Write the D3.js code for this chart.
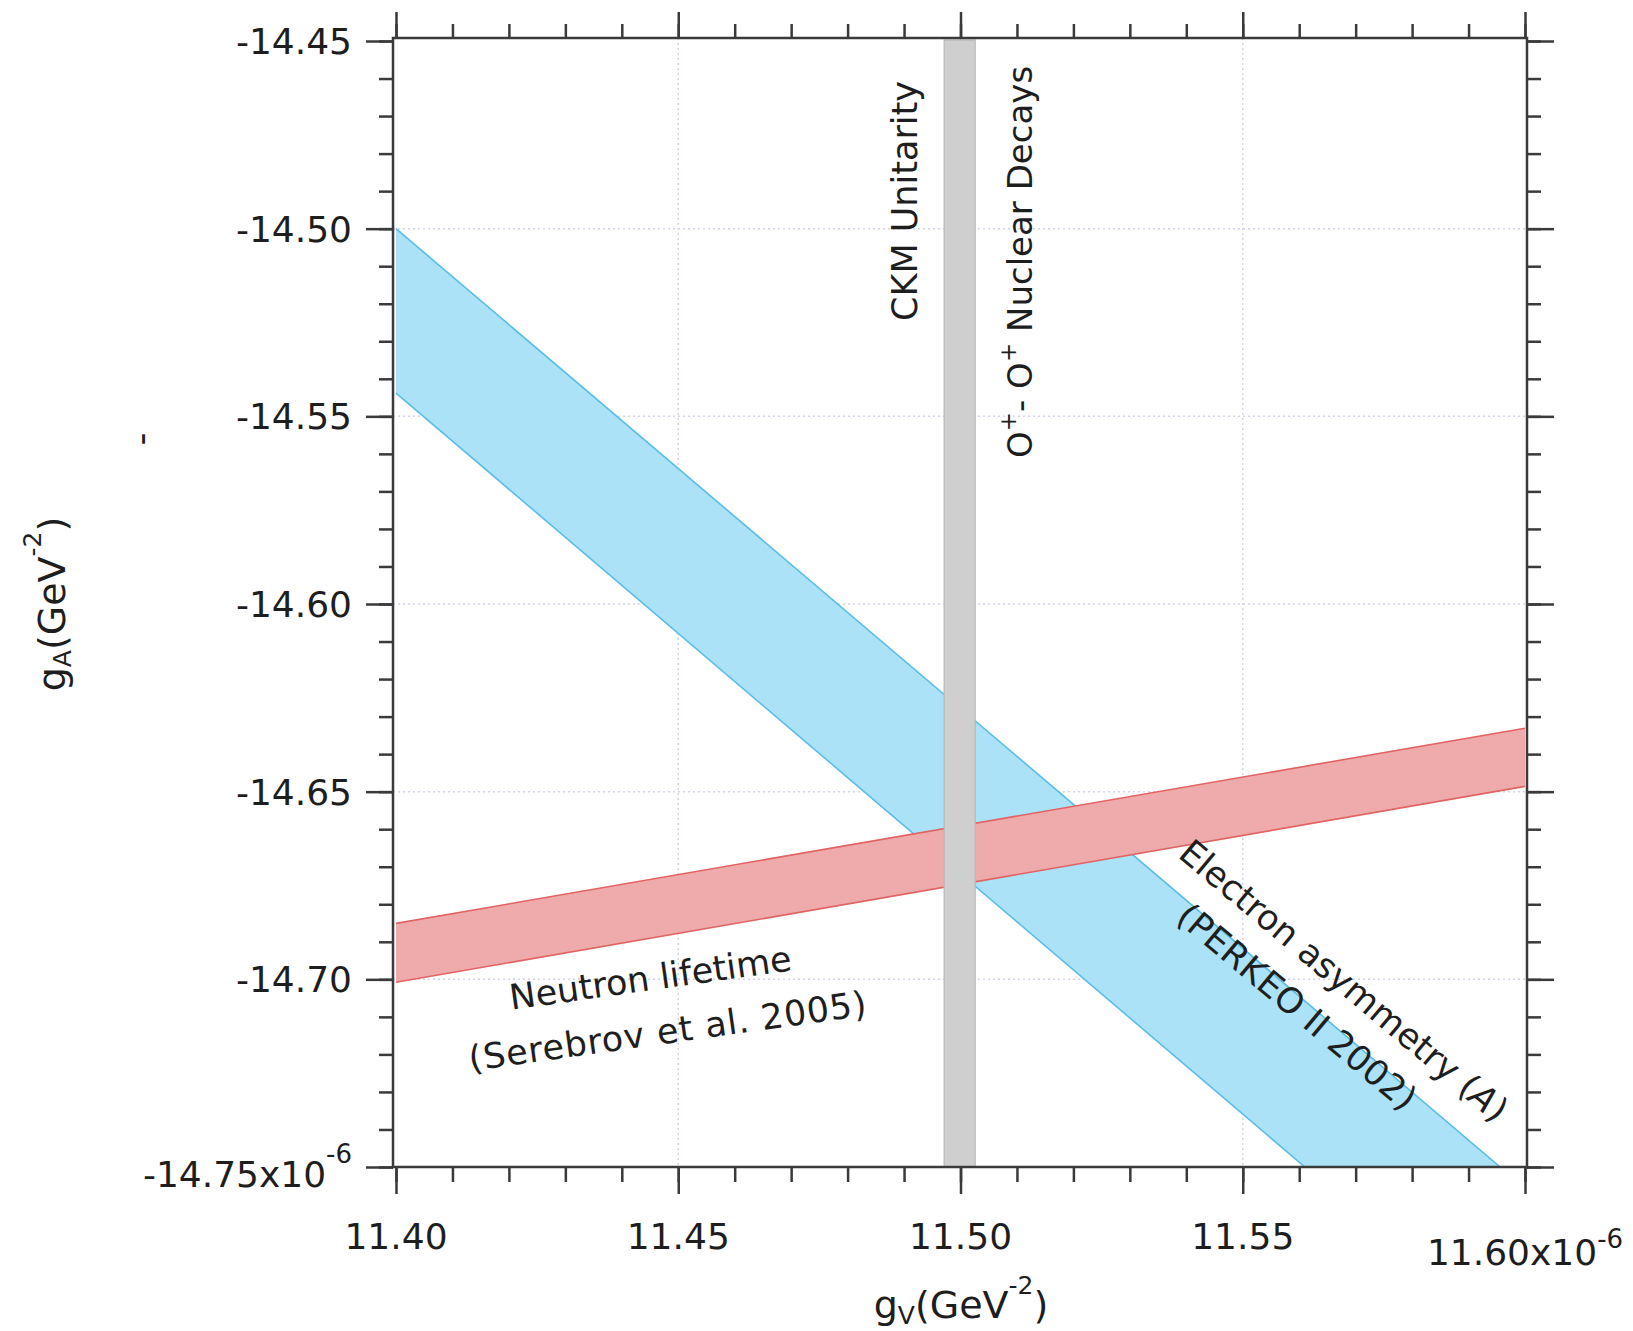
<!DOCTYPE html>
<html>
<head>
<meta charset="utf-8">
<script src="https://cdn.jsdelivr.net/npm/d3@7"></script>
<style>
  html, body { margin: 0; padding: 0; background: #fff; }
  svg { display: block; }
  text { font-family: "DejaVu Sans", sans-serif; fill: #1e1e1e; }
</style>
</head>
<body>
<svg id="chart" width="1633" height="1331"></svg>
<script>
// ---------- data ----------
const xDomain = [11.40, 11.60];           // g_V (x10^-6 GeV^-2)
const yDomain = [-14.75, -14.45];         // g_A (x10^-6 GeV^-2)
const xMajor = [11.40, 11.45, 11.50, 11.55, 11.60];
const xTickLabels = ["11.40", "11.45", "11.50", "11.55", "11.60"];
const yMajor = [-14.45, -14.50, -14.55, -14.60, -14.65, -14.70, -14.75];
const yTickLabels = ["-14.45", "-14.50", "-14.55", "-14.60", "-14.65", "-14.70", "-14.75"];
const xMinor = d3.range(0, 21).map(i => +(11.40 + i * 0.01).toFixed(2));
const yMinor = d3.range(0, 31).map(i => +(-14.75 + i * 0.01).toFixed(2));

// CKM unitarity / 0+-0+ nuclear decays band (g_V range)
const ckmBand = [11.4971, 11.5026];
// Electron asymmetry (PERKEO II 2002) band edges
const blueUpper = [[11.40, -14.500], [11.5956, -14.75]];
const blueLower = [[11.40, -14.5438], [11.5610, -14.75]];
// Neutron lifetime (Serebrov et al. 2005) band edges
const redUpper = [[11.40, -14.6851], [11.60, -14.6331]];
const redLower = [[11.40, -14.7008], [11.60, -14.6486]];

// ---------- layout ----------
const svg = d3.select("#chart");
const frame = { left: 393, right: 1527, top: 38, bottom: 1167 };
const x = d3.scaleLinear().domain(xDomain).range([396, 1525]);
const y = d3.scaleLinear().domain(yDomain).range([1167, 41]);
const axisColor = "#3a3a3a";

svg.append("defs").append("clipPath").attr("id", "plotClip")
  .append("rect")
  .attr("x", frame.left).attr("y", frame.top)
  .attr("width", frame.right - frame.left).attr("height", frame.bottom - frame.top);

// grid lines (dotted)
const grid = svg.append("g").attr("stroke", "#d2d2e8").attr("stroke-width", 1.5)
  .attr("stroke-dasharray", "2,3");
grid.selectAll("line.gx").data(xMajor.slice(1, -1)).join("line")
  .attr("x1", d => x(d)).attr("x2", d => x(d))
  .attr("y1", frame.top).attr("y2", frame.bottom);
grid.selectAll("line.gy").data(yMajor.slice(1, -1)).join("line")
  .attr("x1", frame.left).attr("x2", frame.right)
  .attr("y1", d => y(d)).attr("y2", d => y(d));

const plot = svg.append("g").attr("clip-path", "url(#plotClip)");
const line = d3.line().x(d => x(d[0])).y(d => y(d[1]));

function band(upper, lower, fill, stroke) {
  const poly = [upper[0], upper[1], lower[1], lower[0]];
  plot.append("path").attr("d", line(poly) + "Z").attr("fill", fill).attr("stroke", "none");
  plot.append("path").attr("d", line(upper)).attr("fill", "none").attr("stroke", stroke).attr("stroke-width", 1.6);
  plot.append("path").attr("d", line(lower)).attr("fill", "none").attr("stroke", stroke).attr("stroke-width", 1.6);
}
band(blueUpper, blueLower, "#abe2f7", "#5bbde6");
band(redUpper, redLower, "#efabab", "#e06464");

plot.append("rect")
  .attr("x", x(ckmBand[0])).attr("width", x(ckmBand[1]) - x(ckmBand[0]))
  .attr("y", frame.top + 2).attr("height", frame.bottom - frame.top - 2)
  .attr("fill", "#cfcfcf").attr("stroke", "#b8b8b8").attr("stroke-width", 1.2);

// ---------- axes ----------
function drawAxis(axisFn, scale, values, size, transform) {
  const g = svg.append("g").attr("transform", transform)
    .call(axisFn(scale).tickValues(values).tickSize(size).tickSizeOuter(0).tickFormat(""));
  g.select(".domain").remove();
  g.selectAll(".tick line").attr("stroke", axisColor).attr("stroke-width", 2.5);
}
drawAxis(d3.axisLeft, y, yMinor, 14, `translate(${frame.left},0)`);
drawAxis(d3.axisLeft, y, yMajor, 27, `translate(${frame.left},0)`);
drawAxis(d3.axisRight, y, yMinor, 14, `translate(${frame.right},0)`);
drawAxis(d3.axisRight, y, yMajor, 27, `translate(${frame.right},0)`);
drawAxis(d3.axisTop, x, xMinor, 14, `translate(0,${frame.top})`);
drawAxis(d3.axisTop, x, xMajor, 26, `translate(0,${frame.top})`);
drawAxis(d3.axisBottom, x, xMinor, 15, `translate(0,${frame.bottom})`);
drawAxis(d3.axisBottom, x, xMajor, 27, `translate(0,${frame.bottom})`);

svg.append("rect")
  .attr("x", frame.left).attr("y", frame.top)
  .attr("width", frame.right - frame.left).attr("height", frame.bottom - frame.top)
  .attr("fill", "none").attr("stroke", axisColor).attr("stroke-width", 2.5);

// tick labels
const tickFont = 36;
yMajor.forEach((v, i) => {
  const last = i === yMajor.length - 1;
  const t = svg.append("text").attr("x", 352).attr("y", y(v) + (last ? 20 : 13))
    .attr("text-anchor", "end").attr("font-size", tickFont).attr("fill", "#2a2a2a");
  if (!last) { t.text(yTickLabels[i]); }
  else {
    t.append("tspan").text(yTickLabels[i] + "x10");
    t.append("tspan").attr("font-size", 26).attr("dy", -24).text("-6");
  }
});
xMajor.forEach((v, i) => {
  const last = i === xMajor.length - 1;
  const t = svg.append("text").attr("x", x(v)).attr("y", last ? 1265 : 1249)
    .attr("text-anchor", "middle").attr("font-size", tickFont).attr("fill", "#2a2a2a");
  if (!last) { t.text(xTickLabels[i]); }
  else {
    t.append("tspan").text(xTickLabels[i] + "x10");
    t.append("tspan").attr("font-size", 26).attr("dy", -17).text("-6");
  }
});

// axis titles
function axisTitle(sub, tx, ty, rot) {
  const t = svg.append("text").attr("transform", `translate(${tx},${ty}) rotate(${rot})`)
    .attr("text-anchor", "middle").attr("font-size", 38);
  t.append("tspan").text("g");
  t.append("tspan").attr("font-size", 25).attr("dy", 6).text(sub);
  t.append("tspan").attr("dy", -6).text("(GeV");
  t.append("tspan").attr("font-size", 25).attr("dy", -24).text("-2");
  t.append("tspan").attr("dy", 24).text(")");
}
axisTitle("V", 961, 1318, 0);
axisTitle("A", 65, 604, -90);

// stray mark left of the y axis
svg.append("text").attr("transform", "translate(153,439) rotate(-90)")
  .attr("text-anchor", "middle").attr("font-size", 36).text("-");

// ---------- annotations ----------
const annFont = 35;
svg.append("text").attr("transform", "translate(917,321) rotate(-90)")
  .attr("font-size", annFont).text("CKM Unitarity");

const nuc = svg.append("text").attr("transform", "translate(1032,458) rotate(-90)")
  .attr("font-size", 34);
nuc.append("tspan").text("O");
nuc.append("tspan").attr("font-size", 23).attr("dy", -16).text("+");
nuc.append("tspan").attr("dy", 16).text("- O");
nuc.append("tspan").attr("font-size", 23).attr("dy", -16).text("+");
nuc.append("tspan").attr("dy", 16).text(" Nuclear Decays");

const el = svg.append("g").attr("transform", "translate(1336,990) rotate(40)");
const el1 = el.append("text").attr("text-anchor", "middle").attr("font-size", annFont);
el1.append("tspan").text("Electron asymmetry (");
el1.append("tspan").attr("font-style", "italic").text("A");
el1.append("tspan").text(")");
el.append("text").attr("x", -19).attr("y", 50).attr("text-anchor", "middle")
  .attr("font-size", annFont).text("(PERKEO II 2002)");

const nl = svg.append("g").attr("transform", "translate(652,990) rotate(-8)");
nl.append("text").attr("text-anchor", "middle").attr("font-size", annFont).text("Neutron lifetime");
nl.append("text").attr("x", 10).attr("y", 55).attr("text-anchor", "middle")
  .attr("font-size", annFont).attr("letter-spacing", 0.8).text("(Serebrov et al. 2005)");
</script>
</body>
</html>
